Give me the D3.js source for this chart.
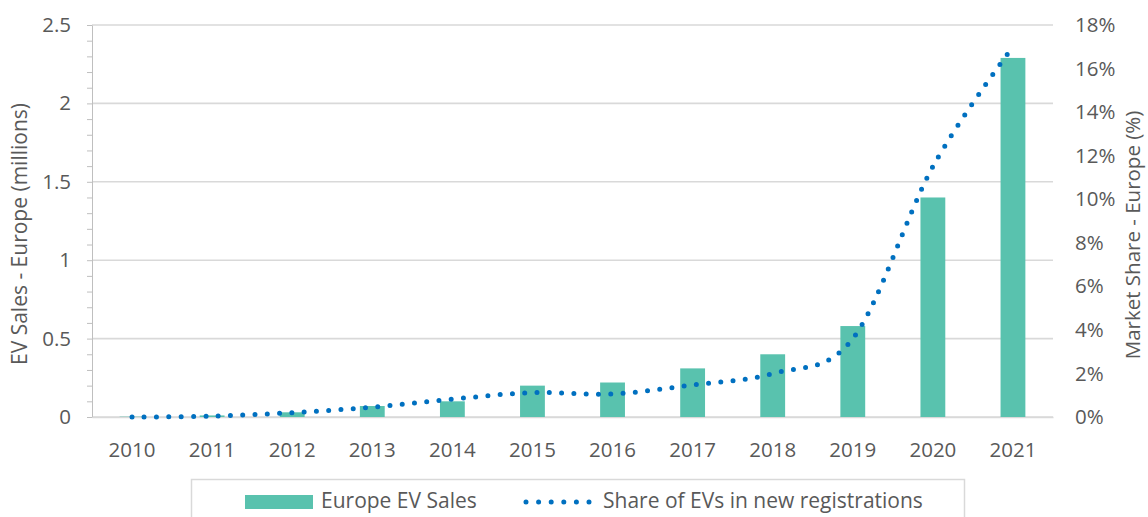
<!DOCTYPE html>
<html>
<head>
<meta charset="utf-8">
<script src="https://cdn.jsdelivr.net/npm/d3@7"></script>
<style>
  body{ margin:0; background:#fff; overflow:hidden; }
  svg text{ font-family:"Open Sans", "Noto Sans", sans-serif; fill:#595959; }
</style>
</head>
<body>
<svg id="plot"></svg>
<script>
const width = 1148;
const height = 517;

// chart data
const years = ['2010','2011','2012','2013','2014','2015','2016','2017','2018','2019','2020','2021'];
const evSales = [0.002, 0.01, 0.03, 0.07, 0.1, 0.2, 0.22, 0.31, 0.4, 0.58, 1.4, 2.29];   // millions
const evShare = [0, 0.04, 0.2, 0.45, 0.82, 1.12, 1.06, 1.47, 2.0, 3.6, 11.5, 17.0];    // percent
const salesTicks = [0, 0.5, 1, 1.5, 2, 2.5];
const shareTicks = [0, 2, 4, 6, 8, 10, 12, 14, 16, 18];
const legendLabels = ['Europe EV Sales', 'Share of EVs in new registrations'];
const leftTitle = 'EV Sales - Europe (millions)';
const rightTitle = 'Market Share - Europe (%)';

const barColor = '#59c2ae';
const lineColor = '#0070c0';
const gridColor = '#d9d9d9';
const labelSize = '20.5px';

const plot = {left: 92, right: 1053, top: 25, bottom: 417};

function main(){
  let chart = new Chart('#plot', width, height, plot)
  .initScales()
  .initGrid()
  .initAxes()
  .initBars()
  .initLine()
  .initLegend();
  window.chart = chart;
}

class Chart{
  constructor(id, width, height, plot){
    this.svg = d3.select('svg' + id)
    .attr('width', width)
    .attr('height', height);
    this.width = width;
    this.height = height;
    this.plot = plot;
  }

  initScales(){
    let p = this.plot;
    this.sx = d3.scaleBand()
    .domain(years)
    .range([p.left, p.right])
    .paddingInner(0.69)
    .paddingOuter(0.345);

    this.sy = d3.scaleLinear()
    .domain([0, 2.5])
    .range([p.bottom, p.top]);

    this.syShare = d3.scaleLinear()
    .domain([0, 18])
    .range([p.bottom, p.top]);
    return this;
  }

  initGrid(){
    let p = this.plot;
    this.svg.append('g')
    .selectAll('line')
    .data(salesTicks)
    .enter()
    .append('line')
    .attr('x1', p.left)
    .attr('x2', p.right)
    .attr('y1', d=>this.sy(d))
    .attr('y2', d=>this.sy(d))
    .attr('stroke', gridColor)
    .attr('stroke-width', 1.6);
    return this;
  }

  initAxes(){
    let p = this.plot;
    // left axis, minor ticks every 0.1, labels every 0.5
    let minor = d3.range(0, 26).map(i=>i/10);
    let ay = d3.axisLeft(this.sy)
    .tickValues(minor)
    .tickSizeInner(5)
    .tickSizeOuter(0)
    .tickPadding(16)
    .tickFormat(d=> Math.abs(d*2 - Math.round(d*2)) < 1e-6 ? d3.format('')(d) : '');
    let gy = this.svg.append('g')
    .attr('transform', `translate(${p.left},0)`)
    .call(ay);
    gy.selectAll('path, line').attr('stroke', '#bfbfbf');
    gy.selectAll('text').style('font-size', labelSize).attr('fill', '#595959');

    // bottom axis
    let ax = d3.axisBottom(this.sx)
    .tickSize(0)
    .tickPadding(25);
    let gx = this.svg.append('g')
    .attr('transform', `translate(0,${p.bottom})`)
    .call(ax);
    gx.select('.domain').attr('stroke', gridColor).attr('stroke-width', 1.6);
    gx.selectAll('text').style('font-size', labelSize).attr('fill', '#595959');

    // right axis (labels only)
    let ar = d3.axisRight(this.syShare)
    .tickValues(shareTicks)
    .tickSize(0)
    .tickPadding(22)
    .tickFormat(d=>d + '%');
    let gr = this.svg.append('g')
    .attr('transform', `translate(${p.right},0)`)
    .call(ar);
    gr.select('.domain').remove();
    gr.selectAll('text').style('font-size', labelSize).attr('fill', '#595959');

    // axis titles
    this.svg.append('text')
    .attr('transform', 'translate(20,234) rotate(-90)')
    .attr('text-anchor', 'middle')
    .attr('dy', '0.35em')
    .style('font-size', '21px')
    .text(leftTitle);

    this.svg.append('text')
    .attr('transform', 'translate(1133,235) rotate(-90)')
    .attr('text-anchor', 'middle')
    .attr('dy', '0.35em')
    .style('font-size', '20.5px')
    .text(rightTitle);
    return this;
  }

  initBars(){
    this.bars = this.svg.append('g')
    .selectAll('rect')
    .data(evSales)
    .enter()
    .append('rect')
    .attr('x', (d,i)=>this.sx(years[i]))
    .attr('y', d=>this.sy(d))
    .attr('width', this.sx.bandwidth())
    .attr('height', d=>this.sy(0) - this.sy(d))
    .attr('fill', barColor);
    return this;
  }

  initLine(){
    let cx = y=>this.sx(y) + this.sx.bandwidth()/2;
    let line = d3.line()
    .x((d,i)=>cx(years[i]))
    .y(d=>this.syShare(d))
    .curve(d3.curveCardinal.tension(0));

    this.svg.append('path')
    .datum(evShare)
    .attr('d', line)
    .attr('fill', 'none')
    .attr('stroke', lineColor)
    .attr('stroke-width', 5)
    .attr('stroke-linecap', 'round')
    .attr('stroke-dasharray', '0 12.3');
    return this;
  }

  initLegend(){
    let g = this.svg.append('g');
    g.append('rect')
    .attr('x', 191.5)
    .attr('y', 479.5)
    .attr('width', 773)
    .attr('height', 60)
    .attr('fill', 'none')
    .attr('stroke', gridColor)
    .attr('stroke-width', 1.5);

    g.append('rect')
    .attr('x', 245)
    .attr('y', 495)
    .attr('width', 68)
    .attr('height', 14)
    .attr('fill', barColor);

    g.append('text')
    .attr('x', 321)
    .attr('y', 508)
    .style('font-size', '21px')
    .text(legendLabels[0]);

    g.append('line')
    .attr('x1', 526)
    .attr('x2', 590)
    .attr('y1', 502)
    .attr('y2', 502)
    .attr('stroke', lineColor)
    .attr('stroke-width', 5)
    .attr('stroke-linecap', 'round')
    .attr('stroke-dasharray', '0 12.6');

    g.append('text')
    .attr('x', 603)
    .attr('y', 508)
    .style('font-size', '21px')
    .text(legendLabels[1]);
    return this;
  }
}

document.addEventListener('DOMContentLoaded', main);
</script>
</body>
</html>
